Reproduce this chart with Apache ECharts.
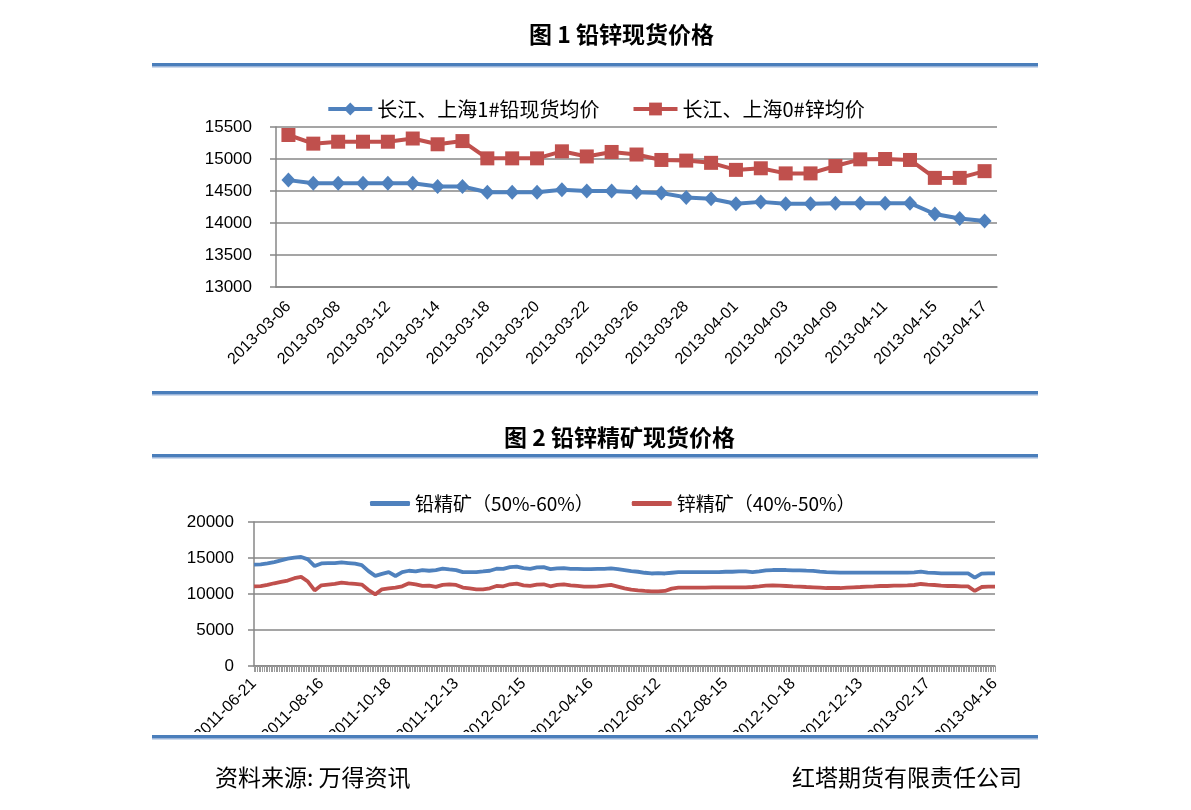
<!DOCTYPE html>
<html>
<head>
<meta charset="utf-8">
<script src="https://cdn.jsdelivr.net/npm/echarts@6/dist/echarts.min.js"></script>
<style>
  html, body { margin: 0; padding: 0; background: #fff; }
  #chart { width: 1191px; height: 810px; }
</style>
</head>
<body>
<div id="chart"></div>
<script>
// chart 1: spot prices, daily, 2013-03-06 .. 2013-04-17
const spotDates = [
  "2013-03-06", "2013-03-07", "2013-03-08", "2013-03-11", "2013-03-12", "2013-03-13",
  "2013-03-14", "2013-03-15", "2013-03-18", "2013-03-19", "2013-03-20", "2013-03-21",
  "2013-03-22", "2013-03-25", "2013-03-26", "2013-03-27", "2013-03-28", "2013-03-29",
  "2013-04-01", "2013-04-02", "2013-04-03", "2013-04-08", "2013-04-09", "2013-04-10",
  "2013-04-11", "2013-04-12", "2013-04-15", "2013-04-16", "2013-04-17",
];
const leadSpot = [
  14670, 14620, 14620, 14620, 14620, 14620, 14570, 14570, 14480, 14480,
  14480, 14520, 14500, 14500, 14480, 14470, 14400, 14380, 14300, 14330,
  14300, 14300, 14310, 14310, 14310, 14310, 14140, 14070, 14030,
];
const zincSpot = [
  15375, 15240, 15270, 15270, 15270, 15320, 15230, 15280, 15010, 15010,
  15010, 15120, 15040, 15110, 15070, 14985, 14975, 14940, 14830, 14855,
  14775, 14775, 14890, 14995, 15000, 14985, 14705, 14705, 14810,
];

// chart 2: concentrate prices, 2011-06-21 .. 2013-04-16 (one label every 10 points)
const concTicks = [
  "2011-06-21", "2011-08-16", "2011-10-18", "2011-12-13", "2012-02-15", "2012-04-16",
  "2012-06-12", "2012-08-15", "2012-10-18", "2012-12-13", "2013-02-17", "2013-04-16",
];
const leadConc = [
  14070, 14110, 14250, 14440, 14670, 14900, 15050, 15140, 14810, 13880,
  14250, 14300, 14300, 14390, 14300, 14210, 14020, 13180, 12525, 12800,
  13040, 12500, 13040, 13230, 13130, 13320, 13230, 13320, 13510, 13410,
  13320, 13040, 13040, 13040, 13130, 13230, 13510, 13500, 13740, 13790,
  13600, 13500, 13690, 13740, 13460, 13550, 13600, 13500, 13500, 13460,
  13460, 13500, 13500, 13550, 13460, 13320, 13180, 13090, 12950, 12850,
  12900, 12850, 12950, 13040, 13040, 13040, 13040, 13040, 13040, 13040,
  13090, 13090, 13130, 13130, 13050, 13150, 13290, 13330, 13330, 13330,
  13290, 13290, 13240, 13200, 13100, 13050, 13010, 12960, 12960, 12960,
  12960, 12960, 12960, 12960, 12960, 12960, 12960, 12960, 13010, 13100,
  12960, 12920, 12870, 12870, 12870, 12870, 12870, 12270, 12820, 12870,
  12870,
];
const zincConc = [
  11050, 11100, 11260, 11490, 11680, 11870, 12190, 12380, 11730, 10500,
  11210, 11310, 11400, 11590, 11490, 11400, 11310, 10560, 9950, 10650,
  10790, 10890, 11070, 11490, 11350, 11120, 11170, 10980, 11260, 11350,
  11260, 10890, 10790, 10650, 10650, 10790, 11120, 11070, 11350, 11450,
  11210, 11120, 11310, 11350, 11070, 11260, 11350, 11210, 11120, 11030,
  11030, 11070, 11170, 11260, 11030, 10790, 10610, 10510, 10420, 10370,
  10370, 10420, 10750, 10890, 10890, 10890, 10890, 10890, 10930, 10930,
  10930, 10930, 10930, 10930, 10970, 11060, 11160, 11200, 11160, 11110,
  11060, 11020, 10970, 10930, 10880, 10830, 10830, 10830, 10880, 10930,
  10970, 11020, 11060, 11110, 11110, 11160, 11160, 11200, 11250, 11390,
  11300, 11250, 11160, 11110, 11110, 11060, 11060, 10420, 10970, 11020,
  11020,
];

const BLUE = "#4f81bd";
const RED = "#c0504d";
const GRAY = "#878787";
const cjk = "Noto Sans CJK SC";
const num = "Liberation Sans";

const concIndex = leadConc.map((v, i) => i);
const plain = (v) => String(v);

const myChart = echarts.init(document.getElementById("chart"));

const bar = (y) => [
  { type: "rect", z: 100, shape: { x: 152, y: y, width: 886, height: 3 }, style: { fill: "#4a7ebb" } },
  { type: "rect", z: 100, shape: { x: 152, y: y + 3, width: 886, height: 1.5 }, style: { fill: "#9bb5da" } },
];

myChart.setOption({
  animation: false,
  title: [
    { text: "图 1 铅锌现货价格", left: 524, top: 18,
      textStyle: { fontFamily: cjk, fontSize: 23, fontWeight: "bold", color: "#000" } },
    { text: "图 2 铅锌精矿现货价格", left: 499, top: 421,
      textStyle: { fontFamily: cjk, fontSize: 23, fontWeight: "bold", color: "#000" } },
    { text: "资料来源: 万得资讯", left: 210, top: 761,
      textStyle: { fontFamily: cjk, fontSize: 23, fontWeight: "normal", color: "#000" } },
    { text: "红塔期货有限责任公司", right: 164, top: 761,
      textStyle: { fontFamily: cjk, fontSize: 23, fontWeight: "normal", color: "#000" } },
  ],
  legend: [
    {
      data: ["长江、上海1#铅现货均价", "长江、上海0#锌均价"],
      left: "center", top: 94, itemWidth: 44, itemHeight: 16, itemGap: 32,
      lineStyle: { width: 4 },
      textStyle: { fontFamily: cjk, fontSize: 20, color: "#000" },
    },
    {
      data: ["铅精矿（50%-60%）", "锌精矿（40%-50%）"],
      left: 365, top: 489, itemWidth: 40, itemHeight: 5, itemGap: 38,
      icon: "roundRect",
      textStyle: { fontFamily: cjk, fontSize: 19, color: "#000" },
    },
  ],
  grid: [
    { left: 276, top: 127, width: 721, height: 160 },
    { left: 254, top: 522, width: 741, height: 144 },
  ],
  xAxis: [
    {
      gridIndex: 0, type: "category", data: spotDates, boundaryGap: true,
      axisLine: { lineStyle: { color: GRAY, width: 1.5 } },
      axisTick: { interval: 0, length: 6, lineStyle: { color: GRAY, width: 1.5 } },
      axisLabel: { interval: 1, rotate: 45, margin: 17, color: "#000", fontFamily: num, fontSize: 16 },
    },
    {
      gridIndex: 1, type: "category", data: concIndex, boundaryGap: false, position: "bottom",
      axisLine: { lineStyle: { color: GRAY, width: 1.5 } },
      axisTick: { show: false },
      axisLabel: {
        interval: 9, rotate: 45, margin: 15, color: "#000", fontFamily: num, fontSize: 16,
        formatter: (v, i) => concTicks[i / 10],
      },
    },
    {
      // dense tick band under chart 2
      gridIndex: 1, type: "value", min: 0, max: 440, interval: 1, position: "bottom",
      axisLine: { show: false },
      axisTick: { show: true, length: 6, lineStyle: { color: "#9a9a9a", width: 1 } },
      axisLabel: { show: false },
      splitLine: { show: false },
    },
  ],
  yAxis: [
    {
      gridIndex: 0, type: "value", min: 13000, max: 15500, interval: 500,
      axisLine: { show: true, lineStyle: { color: GRAY, width: 1.5 } },
      axisTick: { show: true, length: 6, lineStyle: { color: GRAY, width: 1.5 } },
      splitLine: { lineStyle: { color: GRAY, width: 1.5 } },
      axisLabel: { margin: 24, color: "#000", fontFamily: num, fontSize: 17, formatter: plain },
    },
    {
      gridIndex: 1, type: "value", min: 0, max: 20000, interval: 5000,
      axisLine: { show: true, lineStyle: { color: GRAY, width: 1.5 } },
      axisTick: { show: true, length: 6, lineStyle: { color: GRAY, width: 1.5 } },
      splitLine: { lineStyle: { color: GRAY, width: 1.5 } },
      axisLabel: { margin: 20, color: "#000", fontFamily: num, fontSize: 17, formatter: plain },
    },
  ],
  series: [
    {
      name: "长江、上海1#铅现货均价", type: "line", xAxisIndex: 0, yAxisIndex: 0,
      data: leadSpot, symbol: "diamond", symbolSize: [14, 15],
      lineStyle: { color: BLUE, width: 4 }, itemStyle: { color: BLUE },
    },
    {
      name: "长江、上海0#锌均价", type: "line", xAxisIndex: 0, yAxisIndex: 0,
      data: zincSpot, symbol: "rect", symbolSize: 14,
      lineStyle: { color: RED, width: 4 }, itemStyle: { color: RED },
    },
    {
      name: "铅精矿（50%-60%）", type: "line", xAxisIndex: 1, yAxisIndex: 1,
      data: leadConc, symbol: "none",
      lineStyle: { color: BLUE, width: 3.8 }, itemStyle: { color: BLUE },
    },
    {
      name: "锌精矿（40%-50%）", type: "line", xAxisIndex: 1, yAxisIndex: 1,
      data: zincConc, symbol: "none",
      lineStyle: { color: RED, width: 3.8 }, itemStyle: { color: RED },
    },
  ],
  graphic: [
    // labels of chart 2 are cut off by the frame
    { type: "rect", z: 99, shape: { x: 150, y: 732, width: 892, height: 14 }, style: { fill: "#fff" } },
    ...bar(63),
    ...bar(391),
    ...bar(454),
    ...bar(735),
  ],
});
</script>
</body>
</html>
